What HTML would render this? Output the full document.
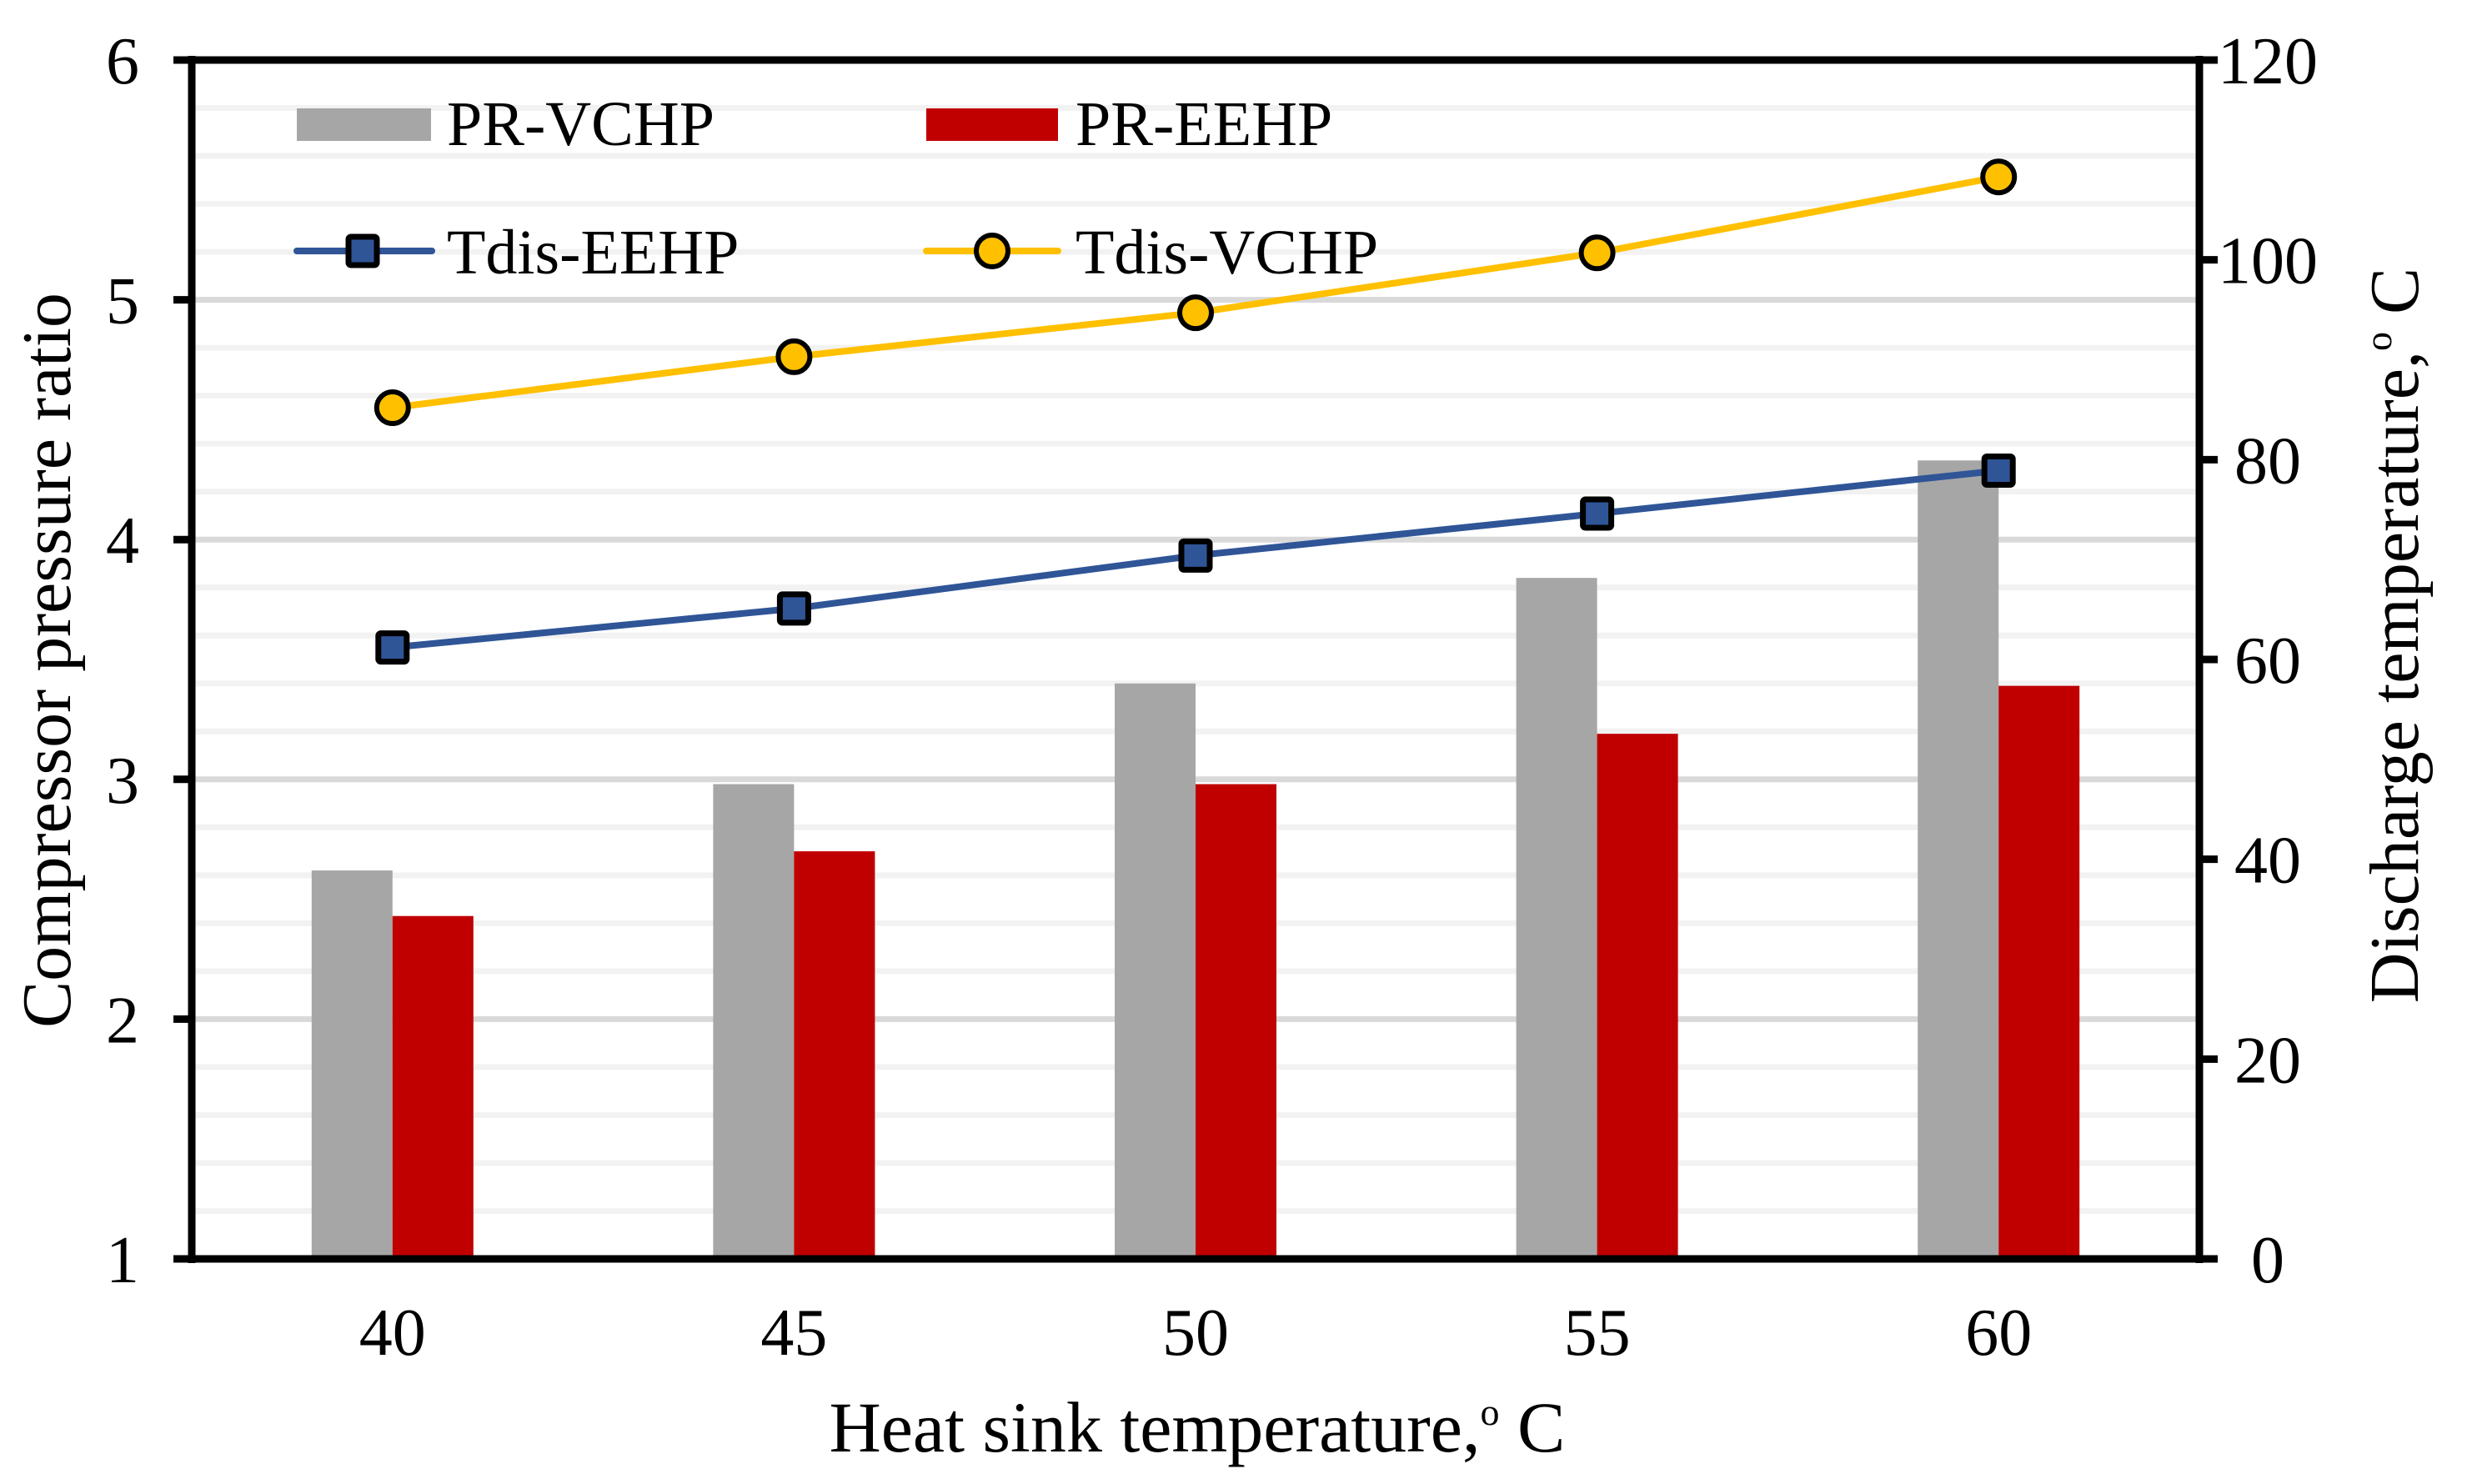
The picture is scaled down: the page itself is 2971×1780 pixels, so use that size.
<!DOCTYPE html>
<html><head><meta charset="utf-8"><style>
html,body{margin:0;padding:0;background:#fff;}
svg{display:block;font-family:"Liberation Serif","Times New Roman",serif;}
</style></head><body>
<svg id="chart" width="2971" height="1780" viewBox="0 0 2971 1780" xmlns="http://www.w3.org/2000/svg">
<g id="grid"></g>
<g id="bars"></g>
<g id="lines"></g>
<g id="axes"></g>
<g id="legend"></g>
<text x="1436" y="1741" font-size="86" text-anchor="middle">Heat sink temperature,<tspan font-size="46" dy="-32">o</tspan><tspan dy="32"> C</tspan></text>
<text transform="translate(84,792) rotate(-90)" font-size="84" text-anchor="middle">Compressor pressure ratio</text>
<text transform="translate(2900,762) rotate(-90)" font-size="84" text-anchor="middle">Discharge temperature,<tspan font-size="46" dy="-32">o</tspan><tspan dy="32"> C</tspan></text>
</svg>
<script>
const categories = ["40","45","50","55","60"];
const prVCHP = [2.62, 2.98, 3.40, 3.84, 4.33];
const prEEHP = [2.43, 2.70, 2.98, 3.19, 3.39];
const tdisEEHP = [61.2, 65.1, 70.4, 74.6, 78.9];
const tdisVCHP = [85.2, 90.3, 94.7, 100.7, 108.3];
const leftTicks = [1,2,3,4,5,6];
const rightTicks = [0,20,40,60,80,100,120];

const NS="http://www.w3.org/2000/svg";
const L=230,R=2638,T=72,B=1510;
const yL=v=>B-(v-1)/5*(B-T);
const yR=v=>B-v/120*(B-T);
const band=(R-L)/categories.length;
const xC=i=>L+band*(i+0.5);
const BW=97;
function mk(tag,attrs,parent){const e=document.createElementNS(NS,tag);for(const k in attrs)e.setAttribute(k,attrs[k]);parent.appendChild(e);return e;}
const grid=document.getElementById('grid'),bars=document.getElementById('bars'),lines=document.getElementById('lines'),axes=document.getElementById('axes'),legend=document.getElementById('legend');

for(let v=1.2;v<6;v+=0.2){
  const major=Math.abs(v-Math.round(v))<1e-6;
  const g=mk('line',{x1:L,x2:R,y1:yL(v),y2:yL(v),stroke:major?'#d9d9d9':'#f2f2f2','stroke-width':7},grid);
  
  
}
categories.forEach((c,i)=>{
  const b1=mk('rect',{x:xC(i)-BW,y:yL(prVCHP[i]),width:BW,height:B-yL(prVCHP[i]),fill:'#a6a6a6'},bars);
  
  
  const b2=mk('rect',{x:xC(i),y:yL(prEEHP[i]),width:BW,height:B-yL(prEEHP[i]),fill:'#c00000'},bars);
  
  
  const t=mk('text',{x:xC(i),y:1625,'font-size':80,'text-anchor':'middle'},axes);
  t.textContent=c;
  
  
});
function series(vals,color,marker,name){
  const p=mk('polyline',{points:vals.map((v,i)=>xC(i)+','+yR(v)).join(' '),fill:'none',stroke:color,'stroke-width':8,'stroke-linejoin':'round'},lines);
  
  
  vals.forEach((v,i)=>{
    let m;
    if(marker==='sq') m=mk('rect',{x:xC(i)-17,y:yR(v)-17,width:34,height:34,rx:3,fill:'#2f5597',stroke:'#000','stroke-width':7},lines);
    else m=mk('circle',{cx:xC(i),cy:yR(v),r:19,fill:'#ffc000',stroke:'#000','stroke-width':6},lines);
    
    
  });
}
series(tdisVCHP,'#ffc000','ci','tdis-vchp');
series(tdisEEHP,'#2f5597','sq','tdis-eehp');

mk('line',{x1:L,x2:L,y1:T-5,y2:B+5,stroke:'#000','stroke-width':9},axes);
mk('line',{x1:R,x2:R,y1:T-5,y2:B+5,stroke:'#000','stroke-width':9},axes);
mk('line',{x1:208,x2:2660,y1:B,y2:B,stroke:'#000','stroke-width':9},axes);
mk('line',{x1:208,x2:2660,y1:T,y2:T,stroke:'#000','stroke-width':9},axes);
leftTicks.forEach(v=>{
  const tk=mk('line',{x1:208,x2:L,y1:yL(v),y2:yL(v),stroke:'#000','stroke-width':9},axes);
  
  
  const t=mk('text',{x:167,y:yL(v)+28,'font-size':80,'text-anchor':'end'},axes);
  t.textContent=v;
  
  
});
rightTicks.forEach(v=>{
  const tk=mk('line',{x1:R,x2:2660,y1:yR(v),y2:yR(v),stroke:'#000','stroke-width':9},axes);
  
  
  const t=mk('text',{x:2720,y:yR(v)+28,'font-size':80,'text-anchor':'middle'},axes);
  t.textContent=v;
  
  
});
function legText(x,y,s,n){const t=mk('text',{x:x,y:y,'font-size':76},legend);t.textContent=s;}
let e;
e=mk('rect',{x:356,y:130,width:161,height:39,fill:'#a6a6a6'},legend);


legText(536,174,'PR-VCHP','legend-label-pr-vchp');
e=mk('rect',{x:1111,y:130,width:158,height:39,fill:'#c00000'},legend);


legText(1290,174,'PR-EEHP','legend-label-pr-eehp');
e=mk('line',{x1:356,x2:518,y1:301,y2:301,stroke:'#2f5597','stroke-width':8,'stroke-linecap':'round'},legend);


e=mk('rect',{x:418,y:284,width:34,height:34,rx:3,fill:'#2f5597',stroke:'#000','stroke-width':7},legend);


legText(536,328,'Tdis-EEHP','legend-label-tdis-eehp');
e=mk('line',{x1:1111,x2:1269,y1:301,y2:301,stroke:'#ffc000','stroke-width':8,'stroke-linecap':'round'},legend);


e=mk('circle',{cx:1190,cy:301,r:19,fill:'#ffc000',stroke:'#000','stroke-width':6},legend);


legText(1290,328,'Tdis-VCHP','legend-label-tdis-vchp');
</script>
</body></html>
